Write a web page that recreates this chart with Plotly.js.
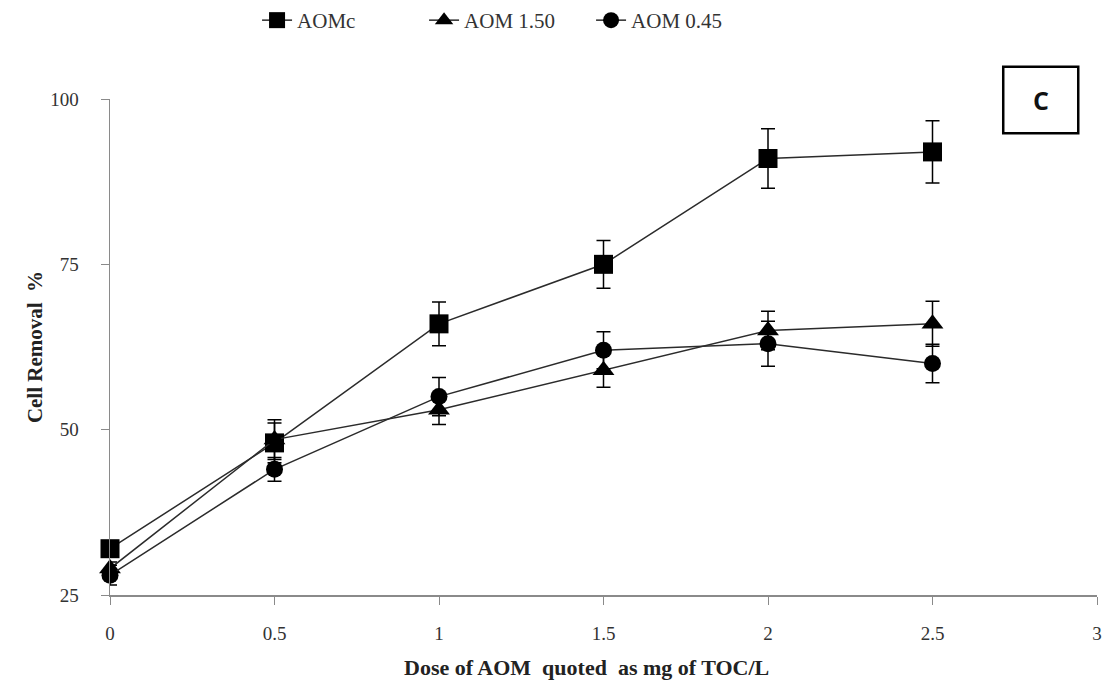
<!DOCTYPE html>
<html>
<head>
<meta charset="utf-8">
<script src="https://cdn.plot.ly/plotly-3.0.1.min.js"></script>
<style>
  html, body { margin: 0; padding: 0; background: #ffffff; }
  #chart { width: 1108px; height: 691px; }
</style>
</head>
<body>
<div id="chart"></div>
<script>
// Dose of AOM (mg TOC/L)
const dose = [0, 0.5, 1, 1.5, 2, 2.5];

// Cell removal (%) and standard deviations per AOM fraction
const aomcRemoval = [32, 48, 66, 75, 91, 92];
const aomcError   = [1, 3, 3.3, 3.6, 4.5, 4.7];

const aom150Removal = [29, 48.5, 53, 59, 65, 66];
const aom150Error   = [1, 3, 2.2, 2.6, 2.9, 3.4];

const aom045Removal = [28, 44, 55, 62, 63, 60];
const aom045Error   = [1.5, 1.8, 2.9, 2.8, 3.4, 2.9];

const seriesNames = ['AOMc', 'AOM 1.50', 'AOM 0.45'];
const symbols = ['square', 'triangle-up', 'circle'];
const markerSizes = [19, 19, 17];

const xTicks = [0, 0.5, 1, 1.5, 2, 2.5, 3];
const xTickText = ['0', '0.5', '1', '1.5', '2', '2.5', '3'];
const yTicks = [25, 50, 75, 100];

const serif = '"Liberation Serif", "Times New Roman", serif';

const values = [aomcRemoval, aom150Removal, aom045Removal];
const errors = [aomcError, aom150Error, aom045Error];

const traces = seriesNames.map((name, i) => ({
  type: 'scatter',
  mode: 'lines+markers',
  name: name,
  x: dose,
  y: values[i],
  line: { color: '#2b2b2b', width: 1.5 },
  marker: { symbol: symbols[i], size: markerSizes[i], color: '#000000' },
  error_y: { type: 'data', array: errors[i], visible: true, color: '#000000', thickness: 1.5, width: 7 },
  cliponaxis: false
}));

const layout = {
  width: 1108,
  height: 691,
  margin: { l: 110, r: 11, t: 99, b: 96, autoexpand: false },
  paper_bgcolor: '#ffffff',
  plot_bgcolor: '#ffffff',
  font: { family: serif, color: '#333333', size: 18 },
  showlegend: true,
  legend: {
    orientation: 'h',
    xref: 'container',
    yref: 'container',
    x: 0.232,
    xanchor: 'left',
    y: 1.0,
    yanchor: 'top',
    font: { family: serif, size: 21, color: '#333333' },
    entrywidth: 122,
    entrywidthmode: 'pixels',
    tracegroupgap: 0
  },
  xaxis: {
    range: [0, 3],
    tickvals: xTicks,
    ticktext: xTickText,
    showgrid: false,
    zeroline: false,
    showline: true,
    linecolor: '#8a8a8a',
    linewidth: 1.5,
    ticks: 'outside',
    ticklen: 8,
    tickcolor: '#8a8a8a',
    ticklabelstandoff: 13,
    tickfont: { family: serif, size: 19, color: '#333333' },
    fixedrange: true
  },
  yaxis: {
    range: [25, 100],
    tickvals: yTicks,
    showgrid: false,
    zeroline: false,
    showline: true,
    linecolor: '#8a8a8a',
    linewidth: 1.5,
    ticks: 'outside',
    ticklen: 8,
    tickcolor: '#8a8a8a',
    ticklabelstandoff: 18,
    tickfont: { family: serif, size: 19, color: '#333333' },
    title: {
      text: '<b>Cell Removal  %</b>',
      font: { family: serif, size: 21, color: '#222222' },
      standoff: 2
    },
    fixedrange: true
  },
  shapes: [{
    type: 'rect',
    xref: 'paper', yref: 'paper',
    x0: 0.905, x1: 0.981, y0: 0.931, y1: 1.065,
    line: { color: '#000000', width: 2.5 },
    fillcolor: 'rgba(0,0,0,0)'
  }],
  annotations: [
    {
      // panel letter
      xref: 'paper', yref: 'paper',
      x: 0.943, y: 0.998,
      xanchor: 'center', yanchor: 'middle',
      text: '<b>C</b>',
      showarrow: false,
      font: { family: '"Open Sans", "DejaVu Sans", sans-serif', size: 25, color: '#111111' }
    },
    {
      // x axis title
      xref: 'paper', yref: 'paper',
      x: 0.483, y: -0.147,
      xanchor: 'center', yanchor: 'middle',
      text: '<b>Dose of AOM  quoted  as mg of TOC/L</b>',
      showarrow: false,
      font: { family: serif, size: 22, color: '#222222' }
    }
  ]
};

Plotly.newPlot('chart', traces, layout, { displayModeBar: false, staticPlot: true });
</script>
</body>
</html>
